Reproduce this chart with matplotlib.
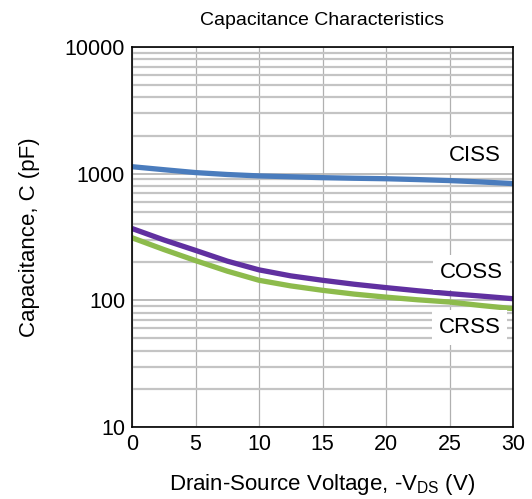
import numpy as np
import matplotlib.pyplot as plt
from matplotlib.ticker import LogLocator, NullFormatter, FixedLocator

plt.rcParams['font.family'] = ['Liberation Sans', 'DejaVu Sans']

# Drain-source voltage (V)
vds = [0, 2.5, 5, 7.5, 10, 12.5, 15, 17.5, 20, 22.5, 25, 27.5, 30]

# Capacitances (pF)
ciss = [1135, 1075, 1020, 985, 960, 945, 930, 920, 912, 898, 882, 860, 835]
coss = [369, 300, 248, 204, 174, 156, 144, 134, 126, 119, 113, 108, 103]
crss = [312, 252, 206, 170, 144, 130, 120, 112, 106, 101, 97, 91, 86]

fig = plt.figure(figsize=(5.32, 4.99), dpi=100)
ax = fig.add_axes([132 / 532, 1 - 427 / 499, 381 / 532, 380 / 499])

ax.set_yscale('log')
ax.set_xlim(0, 30)
ax.set_ylim(10, 10000)

ax.set_xticks([0, 5, 10, 15, 20, 25, 30])
ax.yaxis.set_major_locator(FixedLocator([10, 100, 1000, 10000]))
ax.set_yticklabels(['10', '100', '1000', '10000'])
ax.yaxis.set_minor_locator(LogLocator(base=10, subs=np.arange(2, 10)))
ax.yaxis.set_minor_formatter(NullFormatter())

ax.grid(True, which='major', axis='x', color='#b0b0b0', linewidth=0.9)
ax.grid(True, which='major', axis='y', color='#b0b0b0', linewidth=1.2)
ax.grid(True, which='minor', axis='y', color='#c4c4c4', linewidth=1.6)
ax.set_axisbelow(True)

ax.tick_params(which='both', length=0, labelsize=15.5, pad=5)
for sp in ax.spines.values():
    sp.set_color('black')
    sp.set_linewidth(1.2)

ax.plot(vds, ciss, color='#4a7cbd', linewidth=3.8, solid_capstyle='butt')
ax.plot(vds, crss, color='#8dbb4c', linewidth=3.8, solid_capstyle='butt')
ax.plot(vds, coss, color='#6030a0', linewidth=3.8, solid_capstyle='butt')

box = dict(facecolor='white', edgecolor='none', pad=5)
ax.text(29.0, 1386, 'CISS', fontsize=16, ha='right', va='center', bbox=box)
ax.text(29.2, 166, 'COSS', fontsize=16, ha='right', va='center', bbox=box)
ax.text(29.0, 61, 'CRSS', fontsize=16, ha='right', va='center', bbox=box)

ax.set_title('Capacitance Characteristics', fontsize=14, pad=16)
ax.set_xlabel('Drain-Source Voltage, -V$_{\\mathregular{DS}}$ (V)', fontsize=16, labelpad=12)
ax.set_ylabel('Capacitance, C (pF)', fontsize=16, labelpad=18)

fig.savefig('out.png', dpi=100)
